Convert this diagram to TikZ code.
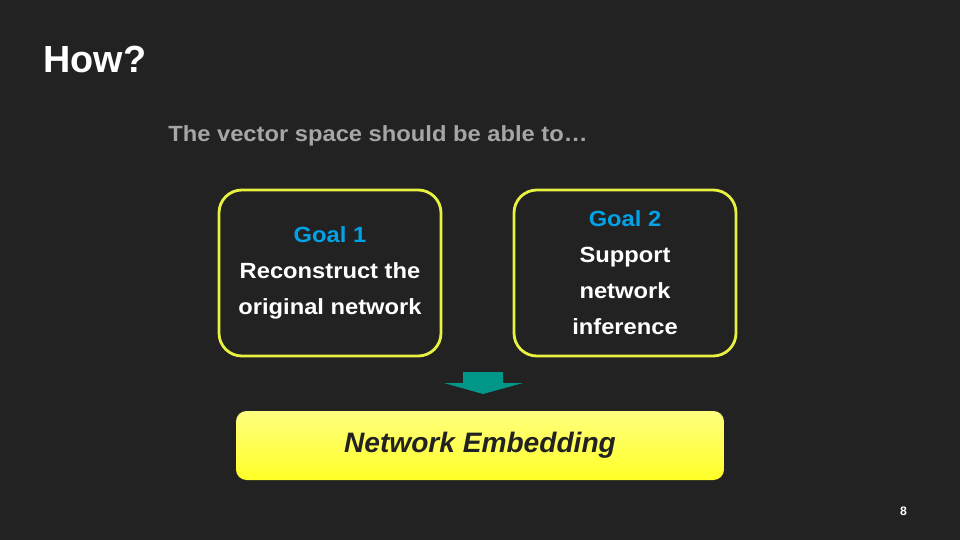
\documentclass[tikz,border=0pt]{standalone}
\usepackage{fontspec}
\setmainfont{Liberation Sans}
\usepackage{xcolor}
\usetikzlibrary{positioning, calc}

\definecolor{slidebg}{HTML}{222222}
\definecolor{goalblue}{HTML}{00A2E8}
\definecolor{rimyellow}{HTML}{E8F040}
\definecolor{arrowteal}{HTML}{009688}
\definecolor{subgrey}{HTML}{A6A6A6}

\begin{document}
\begin{tikzpicture}[
    every node/.style={font=\bfseries},
    goalbox/.style={draw=rimyellow, line width=1.6pt, fill=slidebg, rounded corners=13pt,
                minimum width=4.44cm, minimum height=3.32cm, align=center, text=white,
                font=\bfseries\fontsize{12.5}{20.5}\selectfont\addfontfeature{FakeStretch=1.08}},
    embedbox/.style={rounded corners=6pt, minimum width=9.76cm, minimum height=1.38cm,
                top color=yellow!50!white, bottom color=yellow!85!white, text=slidebg,
                font=\bfseries\itshape\fontsize{16}{18}\selectfont},
    label/.style={text=goalblue}
]
\useasboundingbox (0,0) rectangle (19.2,-10.8);
\fill[slidebg] (0,0) rectangle (19.2,-10.8);

\node[anchor=base west, text=white, font=\bfseries\fontsize{21.5}{24}\selectfont, inner sep=0pt]
    (title) at (0.86,-1.46) {How?};
\node[anchor=base west, text=subgrey, inner sep=0pt,
      font=\bfseries\fontsize{12.5}{14}\selectfont\addfontfeature{FakeStretch=1.08}]
    (intro) at (3.36,-2.84) {The vector space should be able to…};

\node[goalbox] (goal1) at (6.6,-5.46) {\textcolor{goalblue}{Goal 1}\\Reconstruct the\\original network};
\node[goalbox] (goal2) at (12.5,-5.46) {\textcolor{goalblue}{Goal 2}\\Support\\network\\inference};

\node[embedbox] (embed) at (9.6,-8.91) {Network Embedding};

% block arrow between the goals and the embedding
\fill[arrowteal] (9.26,-7.44) -- (10.06,-7.44) -- (10.06,-7.66) -- (10.46,-7.66)
    -- (9.66,-7.88) -- (8.88,-7.66) -- (9.26,-7.66) -- cycle;

\node[anchor=base, text=white, font=\bfseries\fontsize{7}{8}\selectfont, inner sep=0pt]
    (page) at (18.07,-10.3) {8};
\end{tikzpicture}
\end{document}
